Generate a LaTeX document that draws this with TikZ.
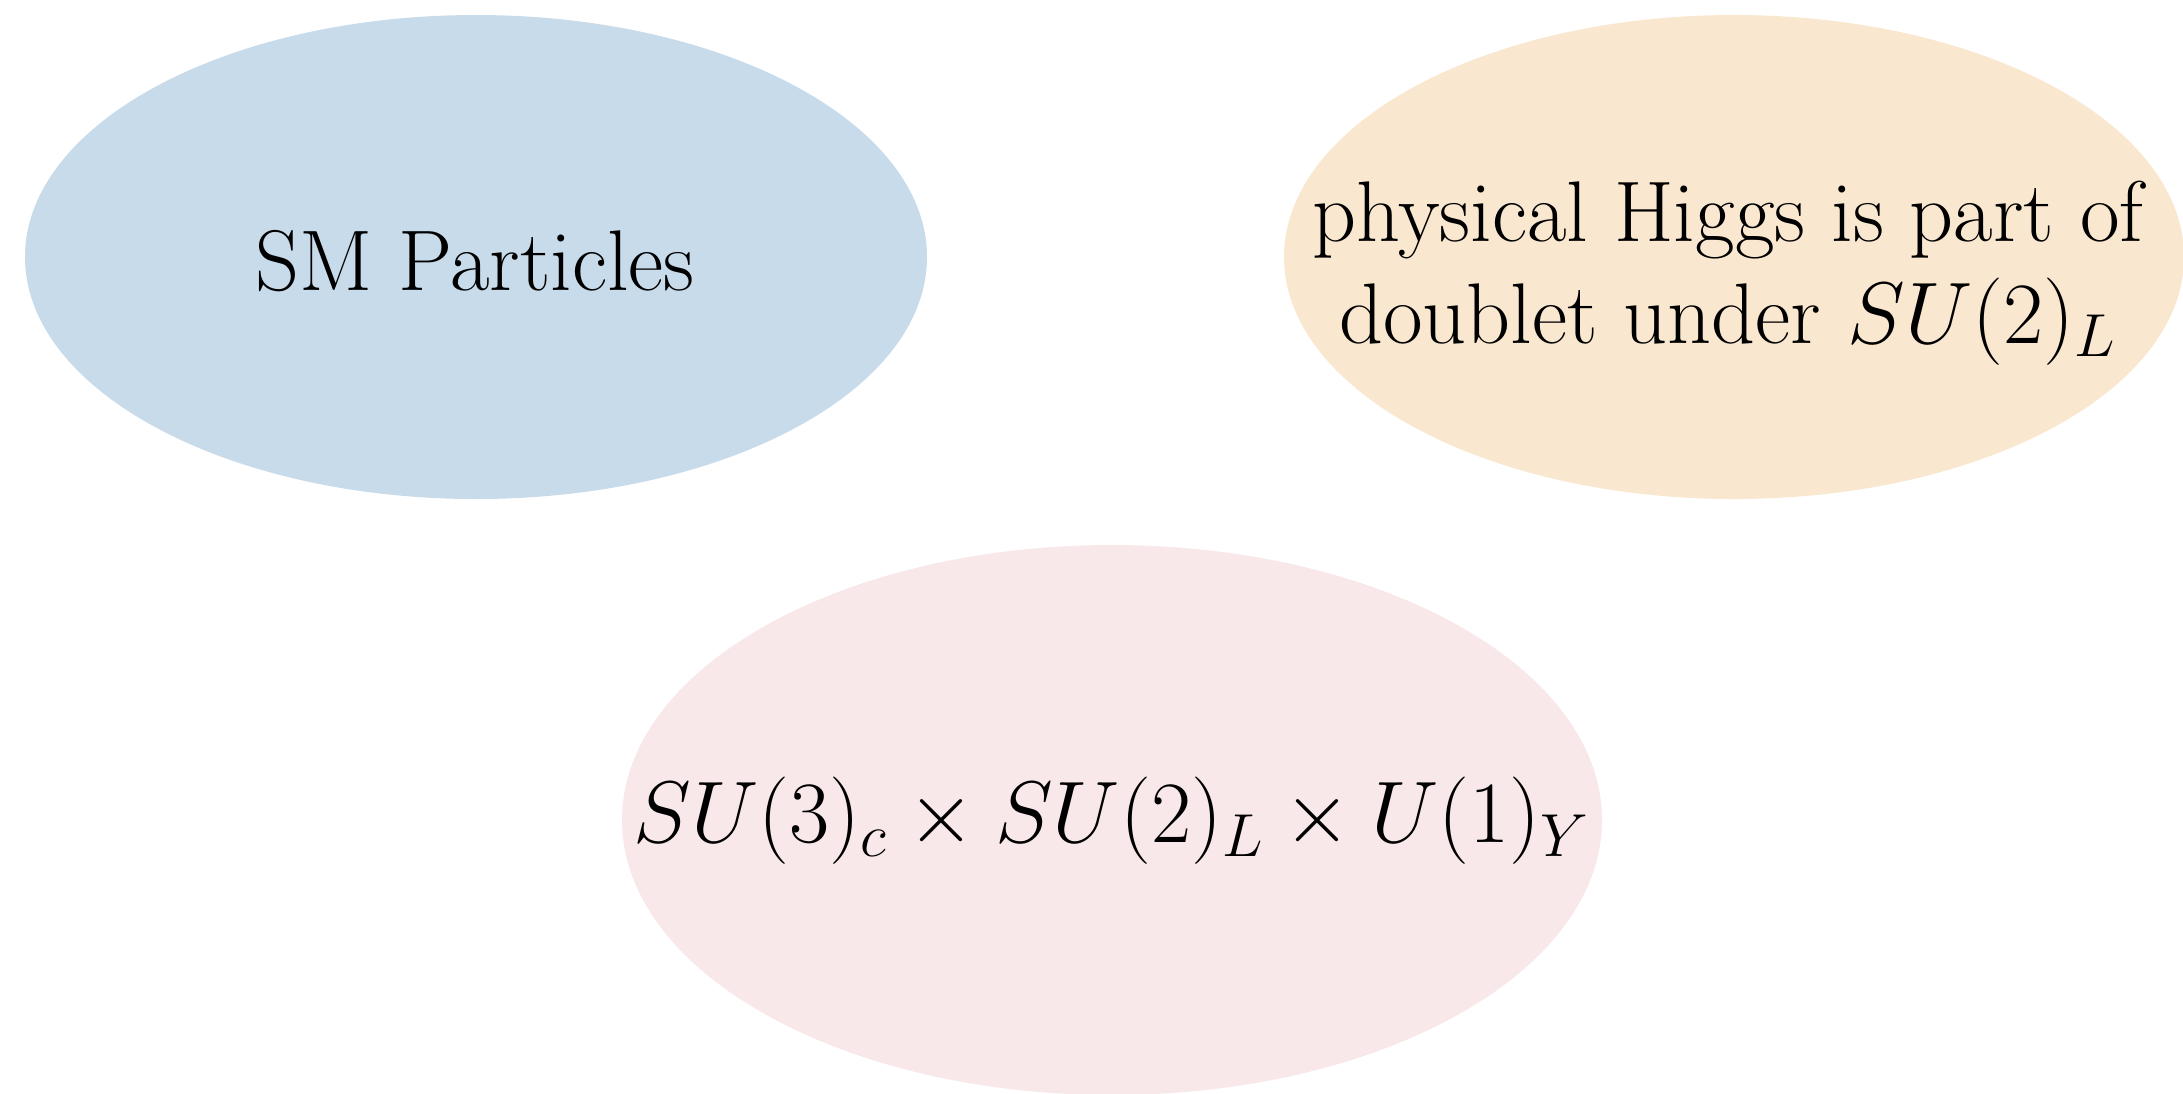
\documentclass[tikz,border=0pt]{standalone}
\usepackage{tikz}
\usetikzlibrary{positioning,shapes.geometric}
\definecolor{smblue}{RGB}{200,219,234}
\definecolor{higgsorange}{RGB}{249,232,207}
\definecolor{grouppink}{RGB}{248,232,233}
\newcommand{\mathsz}{\fontsize{23.4}{29}\selectfont}

\begin{document}
\begin{tikzpicture}[
  font=\fontsize{24.5}{29}\selectfont,
  label/.style={align=center, inner sep=0pt}
]
\clip (0,0) rectangle (21.83,-10.93);
% the three blobs
\fill[smblue] (4.76,-2.57) ellipse [x radius=4.51, y radius=2.42];
\fill[higgsorange] (17.34,-2.57) ellipse [x radius=4.50, y radius=2.42];
\fill[grouppink] (11.12,-8.20) ellipse [x radius=4.90, y radius=2.75];
% texts
\node[label] (sm) at (4.75,-2.61) {SM Particles};
\node[label] (higgs) at (17.28,-2.73) {physical Higgs is part of\\doublet under {\mathsz$SU(2)_L$}};
\node[label, font=\mathsz] (gauge) at (11.12,-8.21) {$SU(3)_c\times SU(2)_L\times U(1)_Y$};
\end{tikzpicture}
\end{document}
